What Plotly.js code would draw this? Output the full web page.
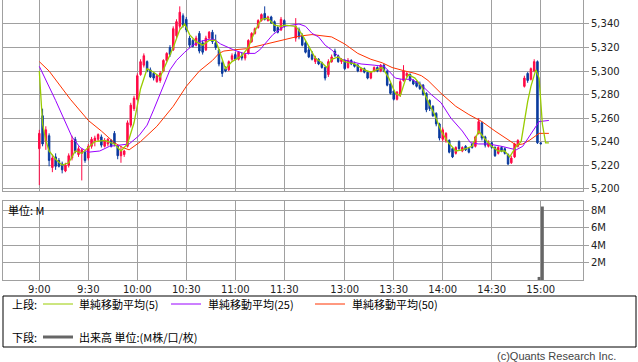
<!DOCTYPE html>
<html><head><meta charset="utf-8">
<script src="https://cdn.plot.ly/plotly-3.0.1.min.js"></script>
<style>html,body{margin:0;padding:0;background:#fff;}#chart{width:638px;height:362px;}</style>
</head><body><div id="chart"></div>
<script>
// ---- data ----
const tickLabels = ['9:00','9:30','10:00','10:30','11:00','11:30','13:00','13:30','14:00','14:30','15:00'];
const priceTicks = [5200,5220,5240,5260,5280,5300,5320,5340];
const volTickVals = [2,4,6,8];
const volTickText = ['2M','4M','6M','8M'];

const candleTimes = [
 '09:00','09:02','09:04','09:06','09:08','09:10','09:12','09:14','09:16','09:18',
 '09:20','09:22','09:24','09:26','09:28','09:30','09:32','09:34','09:36','09:38',
 '09:40','09:42','09:44','09:46','09:48','09:50','09:52','09:54','09:56','09:58',
 '10:00','10:02','10:04','10:06','10:08','10:10','10:12','10:14','10:16','10:18',
 '10:20','10:22','10:24','10:26','10:28','10:30','10:32','10:34','10:36','10:38',
 '10:40','10:42','10:44','10:46','10:48','10:50','10:52','10:54','10:56','10:58',
 '11:00','11:02','11:04','11:06','11:08','11:10','11:12','11:14','11:16','11:18',
 '11:20','11:22','11:24','11:26','11:28','11:30',
 '12:30','12:32','12:34','12:36','12:38','12:40','12:42','12:44','12:46','12:48',
 '12:50','12:52','12:54','12:56','12:58','13:00','13:02','13:04','13:06','13:08',
 '13:10','13:12','13:14','13:16','13:18','13:20','13:22','13:24','13:26','13:28',
 '13:30','13:32','13:34','13:36','13:38','13:40','13:42','13:44','13:46','13:48',
 '13:50','13:52','13:54','13:56','13:58','14:00','14:02','14:04','14:06','14:08',
 '14:10','14:12','14:14','14:16','14:18','14:20','14:22','14:24','14:26','14:28',
 '14:30','14:32','14:34','14:36','14:38','14:40','14:42','14:44','14:46',
 '14:50','14:52','14:54','14:56','14:58','15:00'
];
const openP = [
 5234,5262,5240,5245,5218,5227,5224,5221,5215,5220,
 5226,5242,5229,5230,5231,5226,5236,5240,5242,5244,
 5236,5238,5241,5247,5236,5228,5229,5236,5254,5268,
 5276,5297,5305,5308,5301,5298,5291,5292,5300,5309,
 5320,5318,5330,5338,5347,5344,5328,5326,5322,5332,
 5324,5318,5328,5333,5324,5318,5307,5302,5301,5310,
 5314,5310,5313,5311,5315,5325,5332,5337,5343,5349,
 5343,5346,5342,5337,5335,5343,
 5328,5335,5330,5324,5318,5314,5308,5310,5307,5303,
 5297,5308,5317,5313,5308,5309,5303,5309,5306,5305,
 5300,5302,5299,5294,5300,5303,5300,5305,5300,5289,
 5283,5276,5280,5292,5296,5297,5292,5291,5289,5288,
 5281,5275,5270,5264,5255,5242,5241,5241,5234,5230,
 5240,5232,5236,5234,5238,5236,5247,5256,5244,5236,
 5239,5235,5230,5235,5234,5229,5222,5227,5236,
 5287,5298,5293,5300,5308,5239
];
const highP = [
 5250,5268,5253,5247,5229,5230,5226,5223,5222,5230,
 5245,5244,5236,5234,5232,5238,5244,5245,5247,5246,
 5243,5243,5242,5249,5237,5236,5233,5258,5273,5279,
 5298,5310,5315,5309,5303,5299,5297,5300,5310,5316,
 5322,5338,5344,5355,5349,5346,5330,5327,5330,5334,
 5326,5330,5334,5335,5331,5319,5309,5304,5309,5315,
 5316,5317,5316,5315,5327,5333,5337,5344,5349,5355,
 5347,5347,5343,5338,5346,5344,
 5345,5337,5332,5326,5321,5317,5313,5311,5308,5304,
 5310,5314,5319,5314,5311,5310,5311,5310,5308,5306,
 5303,5303,5300,5300,5304,5304,5306,5306,5301,5290,
 5284,5283,5293,5305,5299,5298,5293,5292,5291,5289,
 5282,5276,5271,5265,5256,5252,5248,5242,5235,5236,
 5241,5236,5237,5235,5239,5245,5260,5257,5245,5241,
 5240,5236,5236,5236,5235,5230,5228,5239,5242,
 5296,5299,5303,5310,5309,5239
];
const lowP = [
 5203,5236,5233,5219,5214,5216,5218,5213,5214,5218,
 5224,5230,5227,5207,5222,5224,5234,5236,5240,5235,
 5235,5236,5235,5236,5225,5222,5227,5235,5252,5266,
 5275,5296,5303,5299,5294,5292,5290,5290,5299,5308,
 5312,5317,5328,5336,5337,5333,5320,5320,5321,5315,
 5314,5317,5327,5323,5318,5304,5295,5299,5300,5308,
 5309,5309,5309,5309,5314,5324,5331,5336,5342,5343,
 5342,5340,5333,5332,5334,5337,
 5325,5327,5321,5315,5311,5309,5306,5305,5302,5292,
 5295,5307,5312,5307,5306,5301,5302,5305,5303,5299,
 5299,5298,5293,5293,5299,5299,5299,5299,5287,5280,
 5275,5275,5278,5291,5295,5291,5288,5286,5284,5279,
 5265,5266,5261,5253,5241,5240,5239,5230,5226,5229,
 5233,5231,5232,5230,5234,5235,5246,5241,5235,5235,
 5234,5227,5229,5231,5229,5220,5221,5226,5235,
 5286,5290,5292,5299,5238,5238
];
const closeP = [
 5247,5238,5250,5224,5226,5219,5219,5216,5220,5228,
 5241,5232,5234,5233,5224,5236,5242,5243,5246,5237,
 5241,5242,5236,5238,5228,5232,5232,5256,5271,5277,
 5296,5308,5313,5300,5295,5294,5296,5298,5309,5315,
 5314,5336,5342,5350,5339,5335,5322,5321,5328,5317,
 5316,5328,5333,5325,5320,5306,5298,5300,5308,5313,
 5310,5316,5311,5314,5326,5332,5336,5343,5348,5344,
 5346,5341,5334,5333,5344,5338,
 5338,5329,5322,5316,5312,5310,5311,5306,5303,5294,
 5308,5312,5313,5308,5310,5302,5309,5306,5304,5300,
 5302,5299,5294,5299,5303,5300,5305,5300,5288,5281,
 5276,5282,5291,5300,5298,5292,5289,5287,5285,5280,
 5267,5268,5262,5255,5243,5250,5247,5231,5227,5235,
 5234,5235,5233,5231,5235,5244,5257,5243,5237,5239,
 5235,5228,5235,5232,5230,5221,5226,5238,5241,
 5294,5292,5302,5308,5239,5238
];

const ma5Times = ['09:00','09:02','09:04','09:06','09:10','09:14','09:18','09:22','09:26','09:30',
 '09:34','09:40','09:46','09:50','09:54','09:58','10:02','10:06','10:10','10:14',
 '10:18','10:22','10:26','10:29','10:32','10:36','10:40','10:44','10:48','10:51',
 '10:54','10:58','11:04','11:08','11:12','11:16','11:20','11:24','11:28','11:30',
 '12:30','12:34','12:38','12:42','12:46','12:49','12:52','12:56','13:00','13:06',
 '13:12','13:16','13:23','13:27','13:31','13:34','13:37','13:39','13:43','13:47',
 '13:51','13:55','13:59','14:03','14:08','14:12','14:18','14:22','14:26','14:30',
 '14:34','14:38','14:41','14:45','14:48','14:50','14:52','14:54','14:56','14:57',
 '14:59','15:01','15:03','15:05'];
const ma5 = [5300,5255,5241,5232,5225,5220,5222,5232,5230,5235,
 5240,5241,5238,5232,5238,5256,5285,5302,5299,5295,
 5307,5320,5335,5340,5331,5325,5322,5326,5326,5313,
 5302,5308,5313,5320,5334,5344,5345,5339,5338,5339,
 5338,5331,5321,5311,5307,5303,5310,5312,5308,5306,
 5301,5299,5303,5294,5281,5279,5292,5297,5294,5287,
 5274,5263,5249,5240,5232,5233,5236,5249,5242,5236,
 5232,5232,5227,5236,5240,5258,5274,5287,5297,5301,
 5294,5255,5239,5239];

const ma25Times = ['09:00','09:10','09:20','09:25','09:30','09:37','09:43','09:49','09:55','10:01',
 '10:06','10:10','10:16','10:20','10:24','10:29','10:34','10:38','10:44','10:47',
 '10:51','10:59','11:05','11:12','11:15','11:19','11:23','11:30',
 '12:30','12:32','12:36','12:40','12:44','12:48','12:52','12:58','13:04','13:10',
 '13:18','13:24','13:27','13:31','13:35','13:41','13:47','13:53','13:59','14:05',
 '14:12','14:17','14:22','14:28','14:36','14:42','14:45','14:49','14:53','14:57',
 '14:59','15:05'];
const ma25 = [5304,5275,5244,5235,5231,5232,5236,5237,5238,5245,
 5254,5267,5287,5301,5309,5316,5322,5325,5327,5327,
 5323,5318,5315,5315,5318,5325,5331,5338,
 5340,5340,5338,5332,5329,5322,5318,5310,5308,5306,
 5305,5304,5300,5294,5293,5293,5288,5280,5273,5260,
 5249,5239,5238,5238,5236,5234,5233,5236,5244,5253,
 5257,5258];

const ma50Times = ['09:00','09:06','09:19','09:30','09:38','09:46','09:51','09:55','10:02','10:12',
 '10:22','10:30','10:38','10:46','10:50','10:53','10:59','11:07','11:19','11:30',
 '12:30','12:34','12:40','12:52','13:00','13:08','13:16','13:23','13:29','13:37',
 '13:43','13:47','13:51','13:59','14:08','14:16','14:24','14:32','14:40','14:45',
 '14:49','14:53','14:59','15:05'];
const ma50 = [5308,5300,5276,5258,5249,5239,5235,5233,5240,5253,
 5270,5287,5300,5309,5315,5317,5318,5319,5323,5327,
 5329,5330,5331,5329,5323,5315,5310,5307,5303,5300,
 5298,5296,5292,5281,5270,5263,5257,5249,5242,5237,
 5238,5241,5247,5247];

const volTimes = ['14:59','15:01'];
const volume = [0.35, 8.4];   // millions

// ---- time -> slot on the session axis (lunch break compressed) ----
function slot(t){
  const p = t.split(':').map(Number);
  const mins = p[0]*60 + p[1];
  return mins <= 690 ? mins - 540 : mins - 750 + 157;
}

// ---- geometry helpers (pixels -> paper) ----
const W = 638, H = 362, ML = 3, MR = 55, MT = 0, MB = 82;
const PW = W - ML - MR, PH = H - MT - MB;
const px = x => (x - ML) / PW;
const py = y => (MT + PH - y) / PH;
const xRange = [(ML - 39.3) / 1.6333, (W - MR - 39.3) / 1.6333];

const RED = '#ff0a46', BLUE = '#0a3a9e';
const GRID = '#a0a0a0';
const tickFont = {family: 'DejaVu Sans, sans-serif', size: 10, color: '#222'};
const cjk = 'Noto Sans CJK JP, sans-serif';

const traces = [
  {type: 'bar', x: volTimes.map(slot), y: volume, xaxis: 'x', yaxis: 'y',
   marker: {color: '#666666', line: {width: 0}}, width: 1.8, hoverinfo: 'skip'},
  {type: 'candlestick', x: candleTimes.map(slot), open: openP, high: highP, low: lowP, close: closeP,
   xaxis: 'x2', yaxis: 'y2', whiskerwidth: 0,
   increasing: {line: {color: RED, width: 1}, fillcolor: RED},
   decreasing: {line: {color: BLUE, width: 1}, fillcolor: BLUE}, hoverinfo: 'skip'},
  {type: 'scatter', mode: 'lines', x: ma50Times.map(slot), y: ma50, xaxis: 'x2', yaxis: 'y2',
   line: {color: '#ff3300', width: 1}, hoverinfo: 'skip'},
  {type: 'scatter', mode: 'lines', x: ma25Times.map(slot), y: ma25, xaxis: 'x2', yaxis: 'y2',
   line: {color: '#9900ff', width: 1}, hoverinfo: 'skip'},
  {type: 'scatter', mode: 'lines', x: ma5Times.map(slot), y: ma5, xaxis: 'x2', yaxis: 'y2',
   line: {color: '#99cc00', width: 1.3}, hoverinfo: 'skip'}
];

const xCommon = {range: xRange, tickmode: 'array', tickvals: tickLabels.map(slot), ticktext: tickLabels,
  showgrid: true, gridcolor: GRID, gridwidth: 1, zeroline: false, showline: true, linecolor: GRID,
  linewidth: 1, ticks: '', fixedrange: true, rangeslider: {visible: false}, tickfont: tickFont};

const layout = {
  width: W, height: H, margin: {l: ML, r: MR, t: MT, b: MB, pad: 0},
  paper_bgcolor: '#fff', plot_bgcolor: '#fff', showlegend: false, boxgap: 0.35,
  xaxis: Object.assign({}, xCommon, {domain: [0, 1], anchor: 'y', mirror: true}),
  xaxis2: Object.assign({}, xCommon, {domain: [0, 1], anchor: 'y2', showticklabels: false, mirror: false}),
  yaxis: {domain: [0, 79 / PH], anchor: 'x', range: [0, 9.03], side: 'right', tickmode: 'array',
    tickvals: volTickVals, ticktext: volTickText, ticks: 'outside', ticklen: 5, tickcolor: GRID,
    showgrid: true, gridcolor: GRID, zeroline: false, showline: true, linecolor: GRID, mirror: true,
    tickfont: tickFont, fixedrange: true},
  yaxis2: {domain: [1 - 191 / PH, 1], anchor: 'x2', range: [5198, 5360.4], side: 'right', tickmode: 'array',
    tickvals: priceTicks, tickformat: ',d', ticks: 'outside', ticklen: 5, tickcolor: GRID,
    showgrid: true, gridcolor: GRID, zeroline: false, showline: true, linecolor: GRID, mirror: true,
    tickfont: tickFont, fixedrange: true},
  shapes: [
    {type: 'rect', xref: 'paper', yref: 'paper', x0: px(3), x1: px(636), y0: py(296), y1: py(347),
     line: {color: '#000', width: 1}, fillcolor: 'rgba(0,0,0,0)'},
    {type: 'line', xref: 'paper', yref: 'paper', x0: px(43), x1: px(73), y0: py(304), y1: py(304),
     line: {color: '#99cc00', width: 1}},
    {type: 'line', xref: 'paper', yref: 'paper', x0: px(171), x1: px(201), y0: py(304), y1: py(304),
     line: {color: '#9900ff', width: 1}},
    {type: 'line', xref: 'paper', yref: 'paper', x0: px(315), x1: px(345), y0: py(304), y1: py(304),
     line: {color: '#ff3300', width: 1}},
    {type: 'line', xref: 'paper', yref: 'paper', x0: px(43), x1: px(73), y0: py(337), y1: py(337),
     line: {color: '#666666', width: 3}}
  ],
  annotations: [
    {text: '単位: M', xref: 'paper', yref: 'paper', x: px(6), y: py(209.5), xanchor: 'left', yanchor: 'middle',
     showarrow: false, font: {family: cjk, size: 11, color: '#000'}},
    {text: '上段:', xref: 'paper', yref: 'paper', x: px(10), y: py(304), xanchor: 'left', yanchor: 'middle',
     showarrow: false, font: {family: cjk, size: 11, color: '#000'}},
    {text: '単純移動平均(5)', xref: 'paper', yref: 'paper', x: px(77), y: py(304), xanchor: 'left', yanchor: 'middle',
     showarrow: false, font: {family: cjk, size: 11, color: '#000'}},
    {text: '単純移動平均(25)', xref: 'paper', yref: 'paper', x: px(206), y: py(304), xanchor: 'left', yanchor: 'middle',
     showarrow: false, font: {family: cjk, size: 11, color: '#000'}},
    {text: '単純移動平均(50)', xref: 'paper', yref: 'paper', x: px(350), y: py(304), xanchor: 'left', yanchor: 'middle',
     showarrow: false, font: {family: cjk, size: 11, color: '#000'}},
    {text: '下段:', xref: 'paper', yref: 'paper', x: px(10), y: py(337), xanchor: 'left', yanchor: 'middle',
     showarrow: false, font: {family: cjk, size: 11, color: '#000'}},
    {text: '出来高 単位:(M株/口/枚)', xref: 'paper', yref: 'paper', x: px(77), y: py(337), xanchor: 'left', yanchor: 'middle',
     showarrow: false, font: {family: cjk, size: 11, color: '#000'}},
    {text: '(c)Quants Research Inc.', xref: 'paper', yref: 'paper', x: px(618), y: py(356), xanchor: 'right', yanchor: 'middle',
     showarrow: false, font: {family: 'Liberation Sans, Arial, sans-serif', size: 11, color: '#444'}}
  ]
};

Plotly.newPlot('chart', traces, layout, {staticPlot: true, displayModeBar: false});
</script>
</body></html>
